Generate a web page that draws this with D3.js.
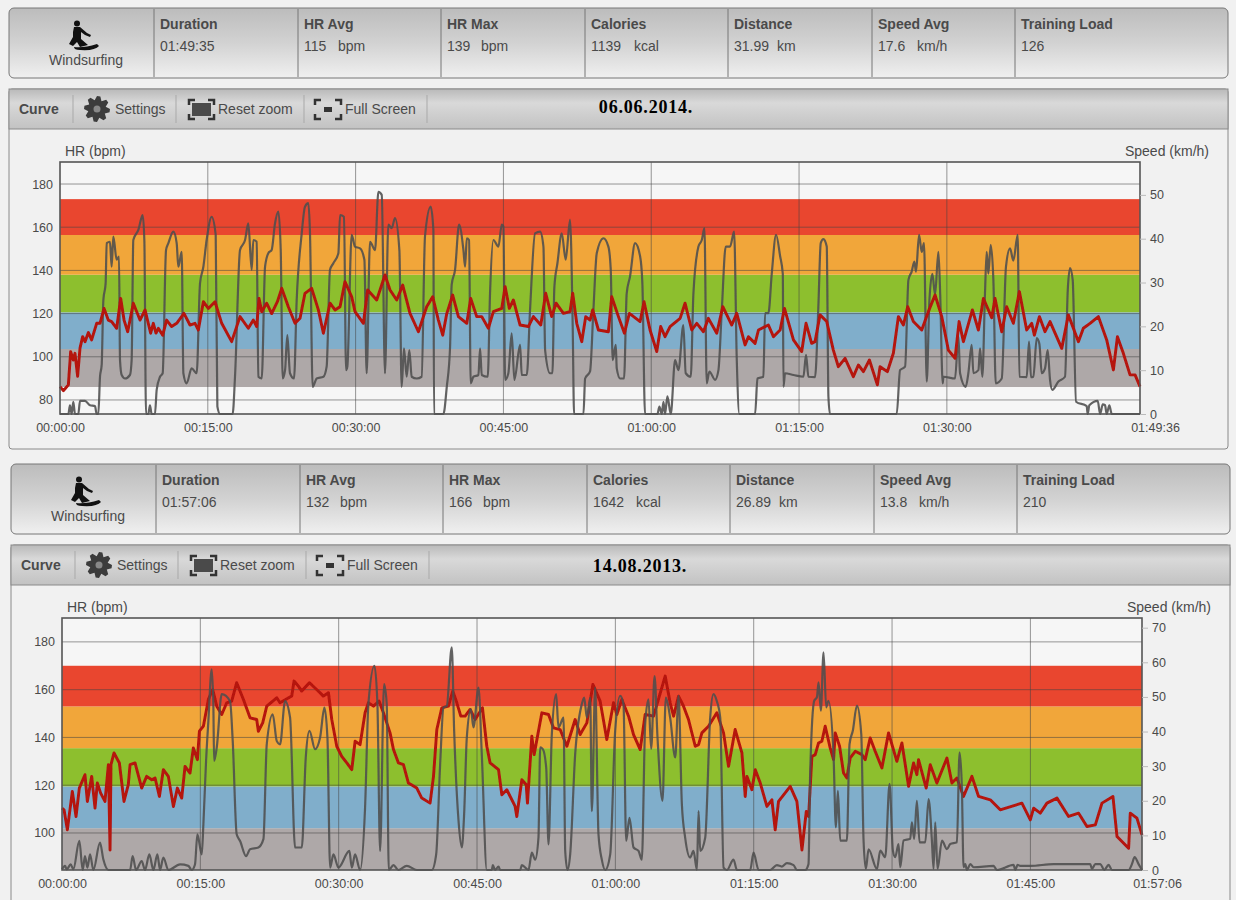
<!DOCTYPE html>
<html>
<head>
<meta charset="utf-8">
<script src="https://d3js.org/d3.v7.min.js"></script>
<style>
  html, body { margin: 0; padding: 0; background: #f1f1f1; overflow: hidden; }
  text { font-family: "Liberation Sans", Arial, sans-serif; fill: #4a4a4a; }
</style>
</head>
<body>
<div id="chart"></div>
<script>
// stat strip
const statLabels = ["Duration", "HR Avg", "HR Max", "Calories", "Distance", "Speed Avg", "Training Load"];
const statValues1 = ["01:49:35", "115", "139", "1139", "31.99", "17.6", "126"];
const statValues2 = ["01:57:06", "132", "166", "1642", "26.89", "13.8", "210"];
const statUnits = ["", "bpm", "bpm", "kcal", "km", "km/h", ""];

// HR zone limits (bpm), bottom to top
const zoneColors = ["#aea8a8", "#80aecb", "#8dbf2e", "#f1a63a", "#e9462f"];
const zones1 = [86, 103.6, 120.6, 138, 156.4, 173];
const zones2 = [84.5, 102, 119.5, 135.5, 153, 170];

// axis ticks
const hrTicks1 = [80, 100, 120, 140, 160, 180];
const hrTicks2 = [100, 120, 140, 160, 180];
const speedTicks1 = [0, 10, 20, 30, 40, 50];
const speedTicks2 = [0, 10, 20, 30, 40, 50, 60, 70];
const timeTicks1 = [0, 15, 30, 45, 60, 75, 90, 109.6];
const timeTicks2 = [0, 15, 30, 45, 60, 75, 90, 105, 117.1];
const timeGrid1 = [15, 30, 45, 60, 75, 90];
const timeGrid2 = [15, 30, 45, 60, 75, 90, 105];

// [minutes, km/h]
const speed1 = [[0,0],[.85,0],[1.01,2],[1.18,0],[1.35,2.8],[1.52,0],[1.86,0],[2.03,3],[2.54,3],[3.04,2],[3.55,1.8],[3.72,0],[3.89,0],
[4.06,8.5],[4.23,11.2],[4.4,26],[4.63,29.8],[4.74,39],[5.07,39.3],[5.24,33.6],[5.41,40.5],[5.75,35.2],[5.99,35.9],[6.09,12.3],[6.26,8.9],[6.6,8.1],[7.1,8.9],[7.27,12.3],[7.44,39.7],[7.95,42],[8.39,45.4],[8.56,39.7],[8.73,0],[8.96,0],[9.13,2],[9.3,0],[9.64,0],[9.81,5.5],[10.15,8.5],[10.42,9.3],[10.76,37.4],[11,39],[11.5,41.6],[11.84,39],[12.01,33.6],[12.35,37],[12.52,9.3],[12.85,7],[13.36,10.4],[13.87,9.3],[14.21,29.8],[14.55,33.6],[14.88,39.7],[15.39,45],[15.8,40.9],[15.97,1.7],[16.24,0],[17.52,0],[17.76,8.5],[18.27,37.4],[18.78,39.7],[19.11,43.5],[19.45,32.9],[19.62,39.7],[19.96,39.3],[20.13,8.5],[20.47,8.1],[20.81,33.6],[21.14,36.7],[21.48,37.4],[21.82,43.5],[22.16,46.2],[22.4,37.4],[22.6,8.1],[22.84,10],[23.07,18],[23.34,9.3],[23.75,8.1],[24.02,26],[24.53,41.2],[24.86,47.3],[25.2,48.1],[25.37,41.2],[25.64,6.2],[26.05,8.1],[26.73,8.5],[27.06,10.8],[27.4,32.9],[27.74,34.4],[28.25,36.7],[28.42,45.4],[28.82,45],[29.03,10],[29.16,10.8],[29.6,40.9],[29.94,38.2],[30.45,37.8],[30.89,35.2],[31.12,9.3],[31.46,39.3],[31.97,37.4],[32.31,50.7],[32.65,50],[32.98,9.3],[33.32,43.2],[33.66,42.4],[34,44.7],[34.44,37.4],[34.67,6.2],[34.91,15],[35.18,8.5],[35.45,14.6],[35.69,8.5],[36.2,8.1],[36.7,8.5],[37.04,40.5],[37.62,47.3],[37.89,42],
[37.96,0],[38.91,0],[39.25,6.2],[39.58,15],[39.75,29.5],[40.09,32.9],[40.5,43.2],[40.94,37.4],[41.11,33.6],[41.28,40.1],[41.51,39.7],[41.68,7],[41.95,8.5],[42.46,8.9],[42.63,15],[42.8,8.9],[43.41,8.5],[43.64,27.5],[43.98,39.7],[44.49,38.2],[44.83,43.2],[45,42.8],[45.17,7.8],[45.5,9.3],[45.84,18.4],[46.11,7.8],[46.69,15.8],[46.86,8.9],[47.37,8.9],[47.7,23.7],[48.21,41.2],[48.72,41.6],[49.06,38.2],[49.23,14.6],[49.73,9.3],[49.97,9.3],[50.17,29],[50.48,34.4],[50.92,41.2],[51.32,35.2],[51.76,44.3],[52.03,20],[52.17,0],[53.12,0],[53.29,8.1],[53.79,9.7],[54.13,23.7],[54.47,36.7],[55.15,40.1],[55.65,38.2],[55.89,33],[56.09,12.3],[56.4,15.8],[56.5,10.4],[56.84,8.1],[57.24,8.1],[57.51,27.5],[57.85,31.4],[58.36,39],[58.87,36],[59.1,29.8],[59.37,0],[60.63,0],[60.83,1.7],[61.07,0],[61.24,2.8],[61.4,0],[61.64,4],[61.98,0],[62.42,12.3],[62.76,10],[63.26,20.3],[63.5,9.3],[64.01,8.5],[64.28,27.5],[64.79,38.2],[65.13,39.7],[65.4,42.4],[65.63,7],[65.9,9.7],[66.48,7.8],[66.82,10],[67.16,23.7],[67.56,38.2],[68,38.2],[68.41,41.6],[68.68,12.3],[68.95,0],[70.54,0],[70.78,8.1],[71.38,8.5],[71.55,23],[71.89,23],[72.23,32],[72.67,40.9],[73.08,36],[73.35,32],[73.42,6.2],[73.58,9.3],[74.43,8.9],[75.44,8.5],[75.71,13.5],[75.95,8.5],
[76.62,8.4],[76.96,24.5],[77.2,39],[77.47,39.9],[77.81,38.2],[77.98,4],[78.14,0],[84.91,0],[85.25,10],[85.76,10.8],[86.1,30.6],[86.43,32.5],[86.7,34.8],[86.87,32.5],[87.18,40.9],[87.45,37],[87.68,39],[87.96,7.4],[88.23,26],[88.53,32],[88.8,27.2],[89.14,37],[89.31,28.3],[89.58,7],[89.65,8.5],[90.83,8.1],[91.17,17.7],[91.34,9.3],[91.91,6.2],[92.18,9.3],[92.52,15.8],[92.69,9.3],[93.2,10],[93.37,15],[93.6,8.5],[93.88,28.3],[94.04,37],[94.21,32],[94.45,38.6],[94.72,30.6],[94.96,7],[95.57,8.1],[96,33.6],[96.41,37.8],[96.75,35],[97.19,40.9],[97.36,8.5],[98.1,8.4],[98.34,16.5],[98.54,8.4],[98.78,8.5],[99.12,17.3],[99.39,16],[99.63,9.3],[99.96,10.4],[100.23,14.6],[100.47,7.8],[100.7,5.5],[101.32,7.4],[101.99,8.5],[102.27,28.3],[102.5,33.3],[102.77,30.6],[103.11,2.8],[104.19,1.8],[104.29,0],[104.46,2],[105.31,3],[105.55,0],[105.82,2.2],[106.05,2],[106.22,0],[106.49,2],[106.73,0],[109.6,0]];

// [minutes, bpm]
const hr1 = [[0,86.2],[.34,84.3],[.85,87],[1.08,102.4],[1.35,98.5],[1.52,101.6],[1.79,91],[2.03,104],[2.3,109.3],[2.54,107],[2.88,111.2],[3.21,107.8],[3.72,115.5],[4.06,115.5],[4.47,122.4],[4.9,117],[5.24,116.3],[5.75,113.2],[6.16,127],[6.5,117],[6.87,111.6],[7.44,124.8],[8.12,117],[8.63,121.7],[9.2,110.9],[9.47,115.5],[9.74,111],[9.98,113.2],[10.42,110],[10.82,117],[11.33,114],[11.84,115.5],[12.58,120.1],[13.19,114.7],[13.7,115.5],[14.04,112.4],[14.55,125.5],[15.05,122.4],[15.73,125.5],[16.41,115.5],[17.42,107],[18.27,118.6],[19.11,113.2],[19.62,117],[19.96,114],[20.2,127],[20.47,120.9],[20.97,124.8],[21.48,120],[22.06,125.5],[22.5,131.7],[23.17,123.2],[23.85,115.5],[24.36,117.8],[24.86,129.4],[25.54,131.7],[26.22,121.7],[26.73,110.9],[27.4,124.8],[27.91,121.7],[28.42,123.2],[28.92,134.8],[29.6,127.8],[29.94,120.9],[30.79,115.5],[31.22,130.9],[32.14,126.3],[32.98,137.9],[33.49,130.9],[34.17,126.3],[34.78,133.2],[35.52,120.1],[36.37,111.6],[37.21,123.2],[37.82,127.8],
[38.4,117],[38.84,110],[39.25,120],[39.85,128.6],[40.43,118.6],[41.28,115.5],[41.68,127],[42.29,118.6],[42.8,118.6],[43.47,113.2],[43.98,120.9],[44.83,122.4],[45.17,132.5],[45.6,122.4],[46.01,126.3],[46.69,114.7],[47.53,114],[48.04,118.6],[48.79,114.7],[49.29,129.4],[49.9,118.6],[50.34,124.8],[51.09,120.1],[51.76,120.9],[52.03,129.4],[52.44,115.5],[52.95,107],[53.35,118.6],[53.79,117],[54.06,121.7],[54.64,112.4],[55.65,111.6],[55.99,127.8],[56.67,118.6],[57.28,110.9],[57.78,120.1],[58.87,116.3],[59.27,125.5],[59.88,112.4],[60.56,102.4],[60.96,114],[61.4,109.3],[61.91,114],[62.93,117.8],[63.43,124.8],[64.11,112.4],[64.62,115.5],[65.3,111.6],[65.8,117.8],[66.65,110.9],[67.26,123.2],[68.17,114.7],[68.68,120.1],[69.52,105.5],[69.86,109.3],[70.54,106.2],[70.88,112.4],[71.89,114.7],[72.4,109.3],[73.08,112.4],[73.52,122.4],[74.43,107.8],[75.27,102.4],
[75.71,115.5],[76.28,106.2],[76.62,107],[77.13,119.4],[77.81,116.3],[78.48,103.1],[78.99,95.4],[79.67,99.3],[80.51,90.8],[81.02,96.2],[81.53,93.1],[82.14,98.5],[82.95,87],[83.22,95.4],[83.96,93.1],[84.57,101.6],[85.08,118.6],[85.59,114.7],[86.03,123.2],[86.6,116.3],[87.45,112.4],[88.12,120.9],[88.8,128.6],[89.48,118.6],[90.15,103.1],[90.83,99.3],[91.24,116.3],[91.68,107],[92.59,121.7],[93.2,112.4],[93.71,127],[94.55,118.1],[94.89,127],[95.57,111.6],[96.07,123.2],[96.75,115.5],[97.36,130.2],[98.1,112.4],[98.61,115.5],[98.88,110],[99.39,118.6],[99.96,111.6],[100.47,116.3],[101.66,103.9],[102.33,119.4],[103.35,107],[103.85,113.2],[104.53,115.5],[105.38,118.6],[106.22,107.8],[106.9,93.9],[107.31,109.3],[107.91,101.6],[108.59,91.6],[109.1,91.6],[109.6,86.2]];

const speed2 = [[0,.2],[.33,1.2],[.51,.2],[.94,1.6],[1.23,.2],[1.88,8.4],[2.24,0],[2.49,4],[2.75,.7],[3.04,4.5],[3.4,0],[4.12,7.9],[4.48,3.1],[5.03,0],[7.38,0],[7.66,4],[8.03,0],[8.64,2.6],[9,0],[9.47,4.5],[9.91,0],[10.34,4.5],[10.63,0],[10.99,3.6],[11.53,0],[12.8,1.6],[13.7,1.2],[14.06,0],[14.42,1.6],[14.68,10.3],[15.15,4.5],[15.33,13.2],[15.62,31.5],[15.87,43],[16.23,58],[16.41,47.9],[16.49,31.5],[16.78,35.4],[17.32,50.8],[18.22,48.8],[18.51,37.3],[18.94,10.3],[19.31,8.4],[19.96,4],[20.39,6],[21.29,6.5],[21.84,8.9],[22.2,36.3],[22.85,45],[23.28,37.3],[23.64,36.3],[24.19,48.8],[24.73,44],[25.27,6.5],[26,6.5],[26.43,32.5],[26.83,40.2],[27.44,34.9],[27.98,38.2],[28.45,46.9],[28.78,38.2],[29.07,.7],[29.43,4.5],[29.97,.7],[31.16,5.5],[31.42,.7],[31.78,4.5],[32.32,0],[32.86,18],[33.22,47.9],[33.88,59],[34.2,47.9],[34.49,5.5],[34.92,53.7],[35.21,47.9],[35.43,0],[35.94,1.4],[36.48,0],[37.38,1.2],[38.47,0],[40.1,0],
[40.57,4.5],[41,30.5],[41.36,46.9],[41.72,47.4],[42.26,64.3],[42.52,40.2],[43,14],[43.35,6.5],[43.6,16],[43.89,38.2],[44.33,46.5],[44.61,41.2],[45.16,52.7],[45.52,33.2],[46.06,0],[46.6,0],[46.71,1.4],[46.96,0],[47.33,1],[47.51,0],[49.68,0],[49.86,1.4],[50.58,0],[50.94,5],[51.3,3],[51.66,9.3],[51.85,35.4],[52.13,34.9],[52.5,29.6],[52.75,7.4],[53.11,39.2],[53.58,50.8],[53.83,41.2],[54.38,44],[54.56,5.5],[54.81,0],[55.1,4.5],[55.64,33.4],[56.36,47.9],[56.62,49.8],[56.91,44],[57.27,49.8],[57.45,17],[57.81,52.7],[58.17,10.3],[58.53,3],[58.9,0],[59.44,4.5],[59.98,40.2],[60.52,50.3],[60.88,47.9],[61.17,8.4],[61.53,15.1],[61.97,6.5],[62.51,5.5],[62.87,3],[63.23,42],[63.59,49.3],[63.88,35],[64.25,56],[64.57,38.2],[65.11,20],[65.47,49.8],[65.94,44],[66.49,32.5],[66.85,50.3],[67.21,19],[67.57,9.3],[68.11,3.6],[68.47,5.5],[68.84,0],[69.02,17],[69.2,5.5],[69.74,9.3],[70.28,44],[70.64,50.8],[71,48.8],[71.37,44],[71.73,.7],[72.09,0],[72.81,3],[73.18,0],[74.62,0],[74.98,5],[75.53,0],[76.79,0],[77.51,1.4],[78.06,1],[78.6,2],[79.32,1.4],[79.68,0],[80.59,0],[80.94,1.7],
[81.12,27.7],[81.56,48.9],[81.85,49.9],[82.03,54.2],[82.28,46],[82.57,62.9],[82.86,47],[83.11,48.9],[83.66,32.6],[83.91,12.3],[84.13,22.9],[84.38,8.5],[85.1,8.5],[85.39,36.4],[85.75,40.3],[86.19,47.5],[86.66,39.3],[86.91,8.5],[87.16,.3],[87.45,6],[88.36,.3],[88.72,5.6],[89.26,3.7],[89.73,24.9],[90.09,5.6],[90.34,3.7],[90.7,7.5],[90.89,.8],[91.25,8.5],[91.97,9],[92.15,13.8],[92.4,9],[92.69,20],[92.98,8],[93.6,8],[93.96,20.5],[94.32,8.5],[94.5,.3],[94.68,13.8],[94.93,.3],[95.41,8.5],[95.95,6],[96.31,7.5],[97.03,8],[97.32,34],[97.57,23.9],[97.75,.8],[97.94,1.7],[98.12,0],[98.48,1.7],[98.84,.8],[101.01,1.2],[101.37,0],[103.18,1.5],[103.36,0],[103.61,1.5],[103.9,1.2],[104.99,1.2],[107.52,1.7],[111.49,1.7],[111.67,.3],[112.04,1.7],[112.58,1.7],[113.01,0],[113.48,1.5],[113.84,0],[115.65,0],[116.01,1.7],[116.3,3.7],[116.73,1.7],[117.1,0]];

const hr2 = [[0,110.4],[.22,109.7],[.58,101.3],[1.12,117.4],[1.52,106.9],[1.88,118.8],[2.49,124.4],[2.75,113.2],[3.22,123.7],[3.58,110.4],[3.83,120.9],[4.19,116.7],[4.66,113.2],[5.03,128.6],[5.21,92.9],[5.31,128.6],[5.64,133.5],[6.22,129.3],[6.72,113.2],[7.19,120.2],[7.38,128.6],[7.92,129.3],[8.64,118.8],[9.18,123.7],[9.73,122.3],[10.09,123],[10.56,115.3],[10.99,126.5],[11.53,123.7],[12.08,111.1],[12.51,118.8],[12.98,114.6],[13.34,127.9],[13.88,125.1],[14.24,135.6],[14.68,130.7],[14.9,142.6],[15.33,144.7],[15.87,155.9],[16.34,160],[16.78,153.1],[17.32,149.6],[17.86,154.5],[18.4,155.2],[18.94,162.9],[19.67,155.9],[20.39,148.2],[21.11,147.5],[21.29,142.6],[21.76,146.1],[22.2,153.1],[23.28,156.6],[23.64,154.5],[24.91,157.3],[25.16,163.6],[25.63,161.5],[25.99,159.4],[26.83,162.9],[27.98,158.7],[28.34,157.3],[28.89,158.7],[29.25,147.5],[29.79,136.3],[30.33,132.1],[30.88,129.3],[31.42,126.5],[31.78,138.4],[32.32,137],[32.86,150.3],[33.22,154.5],[33.77,153.1],[34.38,155.2],[34.85,150.3],[35.57,141.9],[35.94,134.9],[36.48,129.3],[37.02,128.6],[37.56,120.9],[38.47,118.8],[39.01,114.6],[39.91,112.5],
[40.28,123.7],[40.64,143.3],[41.18,152.4],[41.9,153.1],[42.37,159.4],[42.81,154.5],[43.24,148.9],[43.71,148.9],[44.25,151.7],[44.8,147.5],[45.59,152.4],[46.06,136.3],[46.42,129.3],[47.33,126.5],[47.69,116],[48.23,118.1],[49.13,111.1],[49.31,106.9],[49.86,122.3],[50.33,120.2],[50.47,112.5],[50.94,140.5],[51.19,132.8],[52.03,150.3],[52.75,149.6],[53.29,144],[54.01,143.3],[54.74,136.3],[55.64,147.5],[56.18,141.2],[56.91,146.1],[57.56,162.2],[58.35,155.2],[59.07,139.1],[59.8,154.5],[60.16,149.6],[60.7,155.9],[61.43,148.9],[61.97,141.2],[62.69,134.9],[63.23,149.6],[64.14,148.9],[65.4,165.7],[65.94,154.5],[66.31,148.9],[66.85,157.3],[67.39,153.1],[67.93,147.5],[68.66,136.3],[69.02,137],[69.38,141.9],[70.1,144.7],[71,150.3],[71.73,141.9],[72.27,127.9],[72.99,143.3],[73.72,133.5],[74.08,115.3],[74.26,123.7],[74.8,118.1],[75.17,126.5],[75.71,120.9],[76.43,111.1],[76.97,113.9],[77.33,101.3],[77.69,113.2],[78.96,119.5],[79.68,113.2],[80.23,92.9],[80.7,109],[80.95,106.9],
[81.31,132],[81.67,132.8],[82.03,137.7],[82.39,138.4],[82.75,144.7],[83.29,135.6],[83.66,130.7],[83.84,141.9],[84.31,136.3],[84.74,125.1],[85.1,123],[85.46,131.4],[86.01,134.2],[86.73,132.8],[87.09,130.7],[87.63,139.8],[88.17,134.2],[88.9,127.2],[89.62,141.9],[90.52,130],[91.07,137.7],[91.79,119.5],[92.33,129.3],[92.69,124.4],[92.87,130.7],[93.7,118.8],[94.14,128.6],[94.86,120.9],[95.95,131.4],[96.49,120.9],[97.03,123],[97.75,115.3],[98.66,123.7],[99.38,115.3],[100.65,113.9],[101.73,109.7],[104.08,112.5],[104.99,105.5],[105.35,110.4],[106.07,108.3],[106.79,112.5],[107.88,114.6],[109.14,106.9],[110.23,108.3],[111.13,102.7],[112.04,103.4],[112.76,112.5],[113.95,115.3],[114.39,98.5],[115.65,93.6],[115.83,108.3],[116.55,106.2],[117.1,99.2]];

const svg = d3.select("#chart").append("svg").attr("width", 1236).attr("height", 900);

const defs = svg.append("defs");
function gradient(id, stops) {
    const g = defs.append("linearGradient").attr("id", id).attr("x1", 0).attr("x2", 0).attr("y1", 0).attr("y2", 1);
    stops.forEach(s => g.append("stop").attr("offset", s[0]).attr("stop-color", s[1]));
}
gradient("headGrad", [[0, "#bcbcbc"], [0.5, "#d2d2d2"], [1, "#f0f0f0"]]);
gradient("barGrad", [[0, "#b9b9b9"], [0.35, "#d9d9d9"], [1, "#c2c2c2"]]);
defs.append("filter").attr("id", "soft").append("feGaussianBlur").attr("stdDeviation", 0.5);

const timeFmt = m => {
    const s = Math.round(m * 60);
    return [Math.floor(s / 3600), Math.floor(s / 60) % 60, s % 60].map(d3.format("02d")).join(":");
};

function drawIcon(g) {
    // windsurfer silhouette
    g.append("circle").attr("cx", 9).attr("cy", 3.5).attr("r", 3).attr("fill", "#111");
    g.append("path").attr("fill", "#111")
        .attr("d", "M6,7 L12,7 L19,13 L23,15 L22,17 L17,15 L13,12 L13,19 L20,25 L12,27 L9,22 L5,26 L1,24 L5,17 L5,12 Z");
    g.append("path").attr("fill", "#111").attr("d", "M6,27 Q16,28 29,24 L31,26 Q27,31 12,30 Q6,30 6,27 Z");
}

function drawGear(g) {
    const pts = d3.range(24).map(i => {
        const a = i * Math.PI / 12, r = i % 3 === 2 ? 9 : 13;
        return [r * Math.cos(a), r * Math.sin(a)];
    });
    g.append("path").attr("d", d3.line().curve(d3.curveLinearClosed)(pts)).attr("fill", "#3c3c3c");
    g.append("circle").attr("r", 3.5).attr("fill", "#888");
}

function drawCorners(g, w, h) {
    [`M0,5 V0 H6`, `M${w - 6},0 H${w} V5`, `M0,${h - 5} V${h} H6`, `M${w - 6},${h} H${w} V${h - 5}`].forEach(d => {
        g.append("path").attr("d", d).attr("fill", "none").attr("stroke", "#333").attr("stroke-width", 2.5);
    });
}

function drawPanel(o) {
    const root = svg.append("g").attr("transform", `translate(${o.dx},${o.dy})`);

    // stat strip
    const unitOffset = [0, 34, 34, 43, 43, 39, 0];
    root.append("rect").attr("x", 9).attr("y", 8).attr("width", 1219).attr("height", 70).attr("rx", 5)
        .attr("fill", "url(#headGrad)").attr("stroke", "#777");
    o.stats.forEach((v, i) => {
        const x = o.statX[i];
        root.append("line").attr("x1", x).attr("x2", x).attr("y1", 9).attr("y2", 77).attr("stroke", "#777");
        root.append("text").attr("x", x + 6).attr("y", 29).style("font-size", "14px").style("font-weight", "bold").text(statLabels[i]);
        root.append("text").attr("x", x + 6).attr("y", 51).style("font-size", "14px").text(v);
        if (statUnits[i]) {
            root.append("text").attr("x", x + 6 + unitOffset[i]).attr("y", 51).style("font-size", "14px").text(statUnits[i]);
        }
    });
    drawIcon(root.append("g").attr("transform", "translate(68,20)"));
    root.append("text").attr("x", 86).attr("y", 65).attr("text-anchor", "middle").style("font-size", "14px").text("Windsurfing");

    // curve box and toolbar
    root.append("rect").attr("x", 9).attr("y", 89).attr("width", 1219).attr("height", 360).attr("rx", 3)
        .attr("fill", "#f1f1f1").attr("stroke", "#8a8a8a");
    root.append("rect").attr("x", 9).attr("y", 89).attr("width", 1219).attr("height", 40)
        .attr("fill", "url(#barGrad)").attr("stroke", "#8a8a8a");
    root.append("text").attr("x", 19).attr("y", 114).style("font-size", "14px").style("font-weight", "bold").text("Curve");
    [[115, "Settings"], [218, "Reset zoom"], [345, "Full Screen"]].forEach(d => {
        root.append("text").attr("x", d[0]).attr("y", 114).style("font-size", "14px").text(d[1]);
    });
    [73, 176, 304, 427].forEach(x => {
        root.append("line").attr("x1", x).attr("x2", x).attr("y1", 95).attr("y2", 123).attr("stroke", "#a9a9a9");
    });
    drawGear(root.append("g").attr("transform", "translate(97,109)"));
    root.append("rect").attr("x", 192).attr("y", 103).attr("width", 19).attr("height", 13).attr("fill", "#4a4a4a");
    drawCorners(root.append("g").attr("transform", "translate(189,100)"), 25, 19);
    const fs = root.append("g").attr("transform", "translate(315,100)");
    fs.append("rect").attr("x", 9).attr("y", 7).attr("width", 8).attr("height", 5).attr("fill", "#333");
    drawCorners(fs, 26, 19);
    root.append("text").attr("x", o.dateX).attr("y", o.dateY).attr("text-anchor", "middle")
        .style("font-family", "'Liberation Serif', serif").style("font-size", "18px").style("font-weight", "bold")
        .style("letter-spacing", "0.8px").style("fill", "#000")
        .text(o.date);

    root.append("text").attr("x", 65).attr("y", 156).style("font-size", "14px").text("HR (bpm)");
    root.append("text").attr("x", 1209).attr("y", 156).attr("text-anchor", "end").style("font-size", "14px").text("Speed (km/h)");

    // plot
    const x = d3.scaleLinear().domain([0, o.tMax]).range([60, 1140]);
    const yHr = d3.scaleLinear().domain(o.hrDomain).range([414, 162]);
    const ySpeed = d3.scaleLinear().domain(o.speedDomain).range([414, 162]);

    const plot = root.append("g");
    plot.append("rect").attr("x", 60).attr("y", 162).attr("width", 1080).attr("height", 252).attr("fill", "#f6f6f6");

    o.zones.slice(0, -1).forEach((z, i) => {
        plot.append("rect").attr("x", 60).attr("width", 1080)
            .attr("y", yHr(o.zones[i + 1])).attr("height", yHr(z) - yHr(o.zones[i + 1]))
            .attr("fill", zoneColors[i]);
    });
    plot.selectAll(".hgrid").data(o.hrTicks).enter().append("line")
        .attr("x1", 60).attr("x2", 1140)
        .attr("y1", d => yHr(d)).attr("y2", d => yHr(d))
        .attr("stroke", "#444").attr("stroke-opacity", 0.55);
    plot.selectAll(".vgrid").data(o.timeGrid).enter().append("line")
        .attr("x1", d => x(d)).attr("x2", d => x(d))
        .attr("y1", 162).attr("y2", 414)
        .attr("stroke", "#444").attr("stroke-opacity", 0.55);

    const hrLine = d3.line().x(d => x(d[0])).y(d => yHr(d[1]));
    const speedLine = d3.line().curve(d3.curveMonotoneX).x(d => x(d[0])).y(d => ySpeed(d[1]));
    const hrPath = () => plot.append("path").attr("d", hrLine(o.hr)).attr("fill", "none")
        .attr("stroke", "#b5120f").attr("stroke-width", 2.9).attr("stroke-linejoin", "round").attr("filter", "url(#soft)");
    const speedPath = () => plot.append("path").attr("d", speedLine(o.speed)).attr("fill", "none")
        .attr("stroke", "#4e4e4e").attr("stroke-opacity", 0.88).attr("stroke-width", 2.2).attr("stroke-linejoin", "round").attr("filter", "url(#soft)");
    if (o.hrOnTop) { speedPath(); hrPath(); } else { hrPath(); speedPath(); }

    plot.append("rect").attr("x", 60).attr("y", 162).attr("width", 1080).attr("height", 252)
        .attr("fill", "none").attr("stroke", "#555").attr("stroke-width", 1.6);

    // axes
    const left = root.append("g").attr("transform", "translate(60,0)")
        .call(d3.axisLeft(yHr).tickValues(o.hrTicks).tickSize(0).tickPadding(7));
    const right = root.append("g").attr("transform", "translate(1140,0)")
        .call(d3.axisRight(ySpeed).tickValues(o.speedTicks).tickSize(6).tickPadding(4));
    const bottom = root.append("g").attr("transform", "translate(0,414)")
        .call(d3.axisBottom(x).tickValues(o.timeTicks).tickFormat(timeFmt).tickSize(0).tickPadding(9));
    [left, right, bottom].forEach(a => {
        a.select(".domain").remove();
        a.selectAll("text").style("font-size", "12.5px").style("fill", "#4a4a4a");
        a.selectAll("line").attr("stroke", "#bbb");
    });
    bottom.selectAll("text").filter(d => d === o.tMax).attr("x", 15);
}

drawPanel({
    dx: 0, dy: 0, date: "06.06.2014.", dateX: 646, dateY: 113,
    stats: statValues1, statX: [154, 298, 441, 585, 728, 872, 1015],
    tMax: 109.6, hrDomain: [73.5, 190.2], speedDomain: [0, 57.5],
    zones: zones1, hrTicks: hrTicks1, speedTicks: speedTicks1, timeTicks: timeTicks1, timeGrid: timeGrid1,
    speed: speed1, hr: hr1, hrOnTop: true
});
drawPanel({
    dx: 2, dy: 456, date: "14.08.2013.", dateX: 638, dateY: 116,
    stats: statValues2, statX: [154, 298, 441, 585, 728, 872, 1015],
    tMax: 117.1, hrDomain: [84.5, 190], speedDomain: [0, 72.8],
    zones: zones2, hrTicks: hrTicks2, speedTicks: speedTicks2, timeTicks: timeTicks2, timeGrid: timeGrid2,
    speed: speed2, hr: hr2, hrOnTop: false
});
</script>
</body>
</html>
